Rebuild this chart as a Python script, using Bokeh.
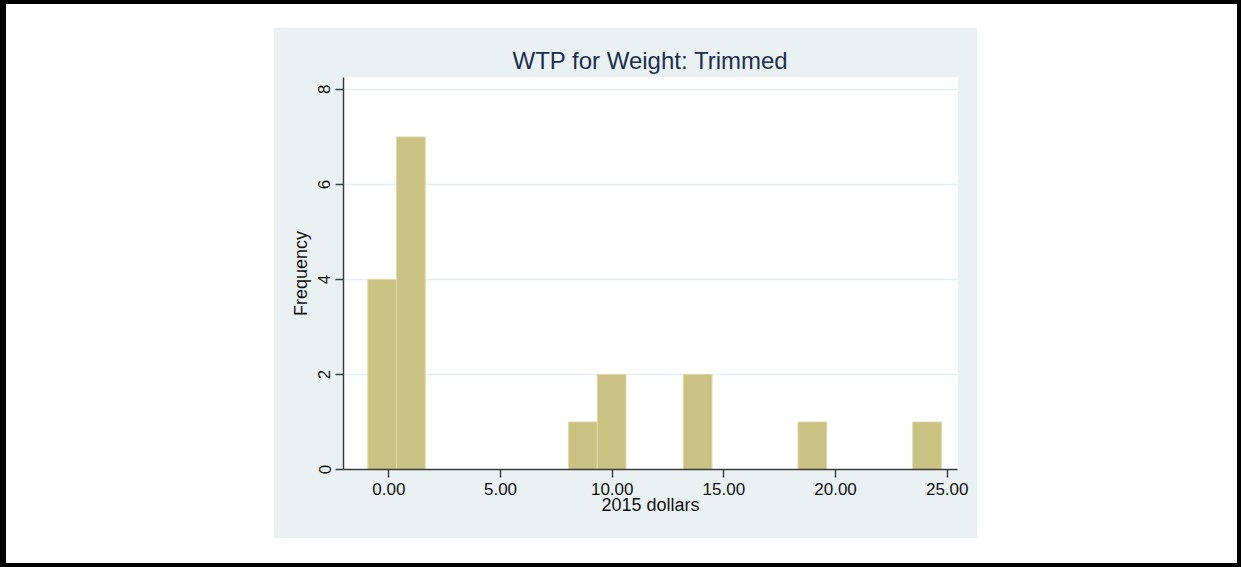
import numpy as np
from bokeh.plotting import figure
from bokeh.layouts import row, column
from bokeh.models import Range1d, Spacer, NumeralTickFormatter
from bokeh.embed import file_html
from bokeh.resources import INLINE

# Histogram of willingness-to-pay (2015 dollars), 20 equal-width bins
bin_min = -0.94
bin_max = 24.74
counts = [4, 7, 0, 0, 0, 0, 0, 1, 2, 0, 0, 2, 0, 0, 0, 1, 0, 0, 0, 1]
x_ticks = [0, 5, 10, 15, 20, 25]
y_ticks = [0, 2, 4, 6, 8]

edges = np.linspace(bin_min, bin_max, len(counts) + 1)

FONT = "Liberation Sans"
PANEL = "#EAF1F3"
BAR_FILL = "#C9C283"
BAR_LINE = "#DDD9AA"
AXIS = "#3c3c3c"

p = figure(
    width=704, height=511,
    x_range=Range1d(-2.03, 25.46), y_range=Range1d(0, 8.25),
    output_backend="svg", toolbar_location=None,
    min_border_left=70, min_border_right=20,
    min_border_top=50, min_border_bottom=69,
    background_fill_color="white", border_fill_color=PANEL,
    outline_line_color=None,
    title="WTP for Weight: Trimmed",
)

p.quad(left=edges[:-1], right=edges[1:], bottom=0, top=counts,
       fill_color=BAR_FILL, line_color=BAR_LINE, line_width=1)

p.title.align = "center"
p.title.text_font = FONT
p.title.text_font_size = "24px"
p.title.text_font_style = "normal"
p.title.text_color = "#1d2f4e"
p.title.standoff = 8

p.xgrid.grid_line_color = None
p.ygrid.grid_line_color = "#E4EDF0"
p.ygrid.grid_line_width = 1.5
p.ygrid.ticker = y_ticks

for ax in (p.xaxis[0], p.yaxis[0]):
    ax.axis_line_color = AXIS
    ax.axis_line_width = 1.5
    ax.major_tick_line_color = AXIS
    ax.major_tick_line_width = 1.5
    ax.major_tick_in = 0
    ax.major_tick_out = 8
    ax.minor_tick_line_color = None
    ax.major_label_text_font = FONT
    ax.major_label_text_font_size = "17px"
    ax.major_label_text_color = "#111111"
    ax.axis_label_text_font = FONT
    ax.axis_label_text_font_size = "18px"
    ax.axis_label_text_font_style = "normal"
    ax.axis_label_text_color = "#111111"

p.xaxis.ticker = x_ticks
p.xaxis.formatter = NumeralTickFormatter(format="0.00")
p.xaxis.axis_label = "2015 dollars"
p.xaxis.major_label_standoff = 5
p.xaxis.axis_label_standoff = -3

p.yaxis.ticker = y_ticks
p.yaxis.major_label_orientation = "vertical"
p.yaxis.axis_label = "Frequency"
p.yaxis.major_label_standoff = 5
p.yaxis.axis_label_standoff = 5


def black(w, h):
    return Spacer(width=w, height=h, styles={"background-color": "black"})


def blank(w, h):
    return Spacer(width=w, height=h)


# page: white sheet with a black frame, graph region placed inside it
graph = column(blank(704, 23), p, blank(704, 25), spacing=0)
middle = row(blank(267, 559), graph, blank(260, 559), spacing=0)
inner = column(black(1231, 4), middle, black(1231, 4), spacing=0)
page = row(black(6, 567), inner, black(4, 567), spacing=0)

open("out.html", "w").write(file_html(page, INLINE))
